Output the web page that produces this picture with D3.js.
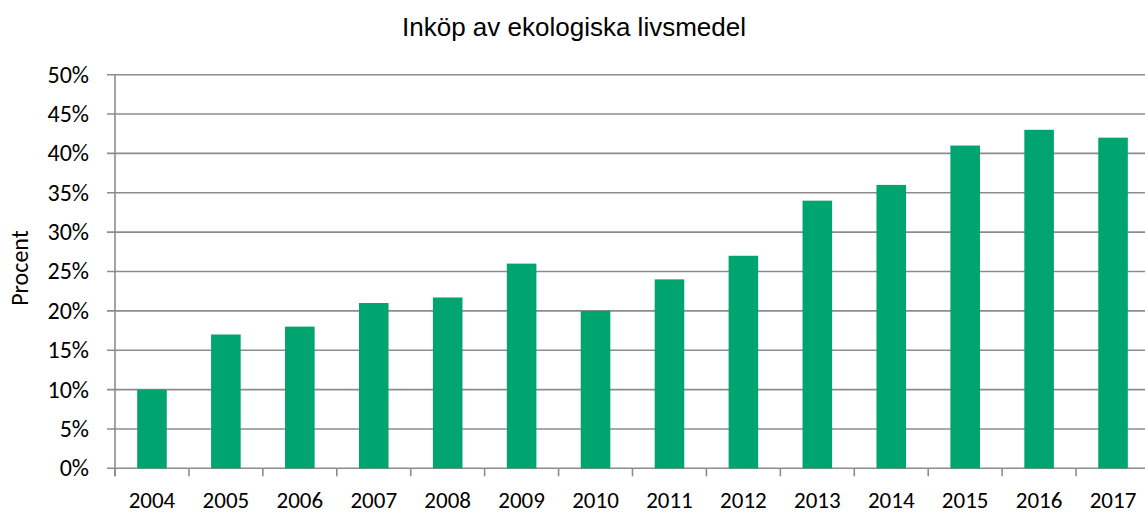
<!DOCTYPE html>
<html>
<head>
<meta charset="utf-8">
<script src="https://cdn.jsdelivr.net/npm/d3@7"></script>
<style>
  body { margin: 0; background: #fff; }
  svg { display: block; }
</style>
</head>
<body>
<div id="chart"></div>
<script>
// data
var years = ['2004','2005','2006','2007','2008','2009','2010','2011','2012','2013','2014','2015','2016','2017'];
var procent = [10, 17, 18, 21, 21.7, 26, 20, 24, 27, 34, 36, 41, 43, 42];
var yTicks = [0, 5, 10, 15, 20, 25, 30, 35, 40, 45, 50];
var title = 'Inköp av ekologiska livsmedel';
var yLabel = 'Procent';

var width = 1145, height = 513;
var plotLeft = 115, plotRight = 1150, plotTop = 74.7, plotBottom = 468.3;
var labelFont = 'Carlito, Calibri, "Noto Sans", sans-serif';

var svg = d3.select('#chart').append('svg')
  .attr('width', width)
  .attr('height', height);

var x = d3.scaleBand()
  .domain(years)
  .range([plotLeft, plotRight])
  .paddingInner(0.6)
  .paddingOuter(0.3);

var y = d3.scaleLinear()
  .domain([0, 50])
  .range([plotBottom, plotTop]);

// gridlines
svg.append('g')
  .selectAll('line')
  .data(yTicks)
  .enter()
  .append('line')
  .attr('x1', plotLeft - 8)
  .attr('x2', width)
  .attr('y1', function(d) { return y(d); })
  .attr('y2', function(d) { return y(d); })
  .attr('stroke', '#8c8c8c')
  .attr('stroke-width', 1.6);

// y labels
svg.append('g')
  .selectAll('text')
  .data(yTicks)
  .enter()
  .append('text')
  .attr('x', 89)
  .attr('y', function(d) { return y(d); })
  .attr('dy', '0.33em')
  .attr('text-anchor', 'end')
  .style('font-family', labelFont)
  .style('font-size', '24px')
  .attr('fill', '#000')
  .text(function(d) { return d + '%'; });

// bars
svg.append('g')
  .selectAll('rect')
  .data(procent)
  .enter()
  .append('rect')
  .attr('x', function(d, i) { return x(years[i]); })
  .attr('width', x.bandwidth())
  .attr('y', function(d) { return y(d); })
  .attr('height', function(d) { return y(0) - y(d); })
  .attr('fill', '#00a46e');

// axis lines
svg.append('line')
  .attr('x1', plotLeft).attr('x2', plotLeft)
  .attr('y1', plotTop).attr('y2', plotBottom + 8)
  .attr('stroke', '#8c8c8c').attr('stroke-width', 1.6);

svg.append('g')
  .selectAll('line')
  .data(years)
  .enter()
  .append('line')
  .attr('x1', function(d) { return x(d) - x.bandwidth() * 0.75; })
  .attr('x2', function(d) { return x(d) - x.bandwidth() * 0.75; })
  .attr('y1', plotBottom)
  .attr('y2', plotBottom + 8)
  .attr('stroke', '#8c8c8c').attr('stroke-width', 1.6);

// x labels
svg.append('g')
  .selectAll('text')
  .data(years)
  .enter()
  .append('text')
  .attr('x', function(d) { return x(d) + x.bandwidth() / 2; })
  .attr('y', 508)
  .attr('text-anchor', 'middle')
  .style('font-family', labelFont)
  .style('font-size', '23px')
  .attr('fill', '#000')
  .text(function(d) { return d; });

// title
svg.append('text')
  .attr('x', 574)
  .attr('y', 36)
  .attr('text-anchor', 'middle')
  .style('font-family', '"Liberation Sans", Arial, sans-serif')
  .style('font-size', '26px')
  .attr('fill', '#000')
  .text(title);

// y axis title
svg.append('text')
  .attr('transform', 'translate(28,268) rotate(-90)')
  .attr('text-anchor', 'middle')
  .style('font-family', labelFont)
  .style('font-size', '24px')
  .attr('fill', '#000')
  .text(yLabel);
</script>
</body>
</html>
